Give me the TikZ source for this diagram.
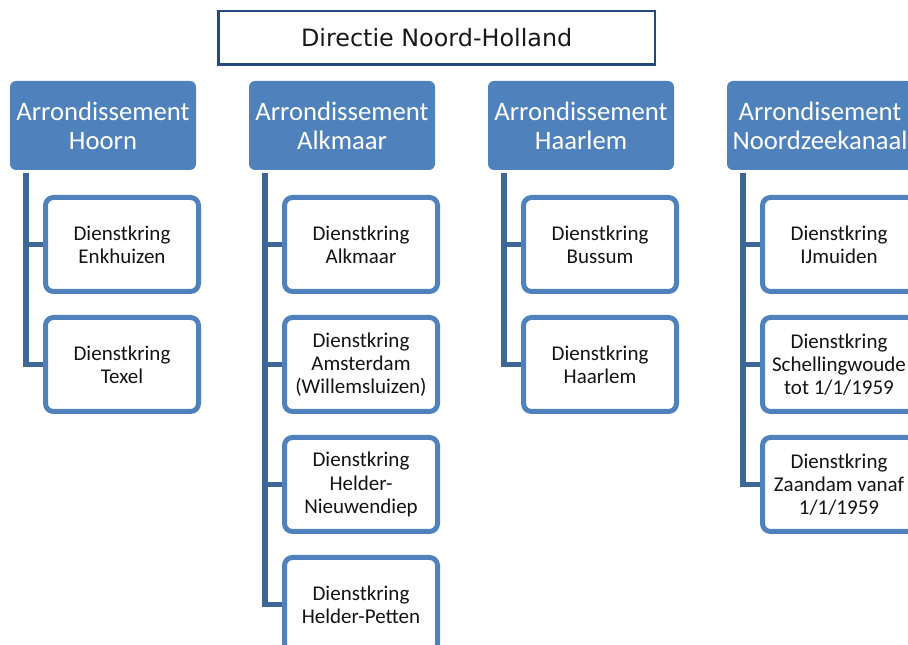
\documentclass[tikz,border=0pt]{standalone}
\usepackage{fontspec}
\usetikzlibrary{backgrounds}
\setmainfont{Carlito}
\newfontfamily\headfont{DejaVu Sans}
\definecolor{orgblue}{HTML}{4F81BD}
\definecolor{linkblue}{HTML}{3D6797}
\definecolor{navy}{HTML}{244A7C}
\begin{document}
\begin{tikzpicture}[x=0.75pt,y=-0.75pt,
  headbox/.style={draw=navy, line width=1.9pt, fill=white, inner sep=0pt,
    minimum width=327.4pt, minimum height=40.1pt, text=black!90,
    font=\headfont\fontsize{17.9}{20}\selectfont},
  arrbox/.style={fill=orgblue, rounded corners=4.5pt, inner sep=0pt,
    minimum width=139.5pt, minimum height=66.75pt, text=white, align=center,
    font=\fontsize{20}{21.75}\selectfont},
  kringbox/.style={draw=orgblue, line width=3.75pt, fill=white, rounded corners=6pt,
    inner sep=0pt, minimum width=114.75pt, minimum height=70.5pt, align=center,
    text=black!92, font=\fontsize{15.75}{17.4}\selectfont},
  conn/.style={draw=linkblue, line width=4.3pt, line join=miter}]
\useasboundingbox (0,0) rectangle (908,645);
\clip (0,0) rectangle (908,645);

% head office
\node[headbox] (dir) at (436.7,37.7) {Directie Noord-Holland};

% districts
\node[arrbox] (hoorn) at (103,125.5) {Arrondissement\\Hoorn};
\node[arrbox] (alkmaar) at (342,125.5) {Arrondissement\\Alkmaar};
\node[arrbox] (haarlem) at (581,125.5) {Arrondissement\\Haarlem};
\node[arrbox] (nzk) at (820,125.5) {Arrondisement\\Noordzeekanaal};

% trunk start points below each district
\foreach \a in {hoorn,alkmaar,haarlem,nzk}
  \coordinate (\a-t) at ([xshift=12.4pt,yshift=-2.25pt]\a.south west);

% service circles
\node[kringbox] (enk) at (122,244.5) {Dienstkring\\Enkhuizen};
\node[kringbox] (tex) at (122,364.5) {Dienstkring\\Texel};

\node[kringbox] (alk) at (361,244.5) {Dienstkring\\Alkmaar};
\node[kringbox] (ams) at (361,364.5) {Dienstkring\\Amsterdam\\(Willemsluizen)};
\node[kringbox] (hnw) at (361,484.5) {Dienstkring\\Helder-\\Nieuwendiep};
\node[kringbox] (hpt) at (361,604.5) {Dienstkring\\Helder-Petten};

\node[kringbox] (bus) at (600,244.5) {Dienstkring\\Bussum};
\node[kringbox] (hlm) at (600,364.5) {Dienstkring\\Haarlem};

\node[kringbox] (ijm) at (839,244.5) {Dienstkring\\IJmuiden};
\node[kringbox] (sch) at (839,364.5) {Dienstkring\\Schellingwoude\\tot 1/1/1959};
\node[kringbox] (zaa) at (839,484.5) {Dienstkring\\Zaandam vanaf\\1/1/1959};

% connectors, drawn behind the boxes
\begin{scope}[on background layer]
  \foreach \c in {enk,tex} \draw[conn] (hoorn-t) |- (\c.west);
  \foreach \c in {alk,ams,hnw,hpt} \draw[conn] (alkmaar-t) |- (\c.west);
  \foreach \c in {bus,hlm} \draw[conn] (haarlem-t) |- (\c.west);
  \foreach \c in {ijm,sch,zaa} \draw[conn] (nzk-t) |- (\c.west);
\end{scope}
\end{tikzpicture}
\end{document}
